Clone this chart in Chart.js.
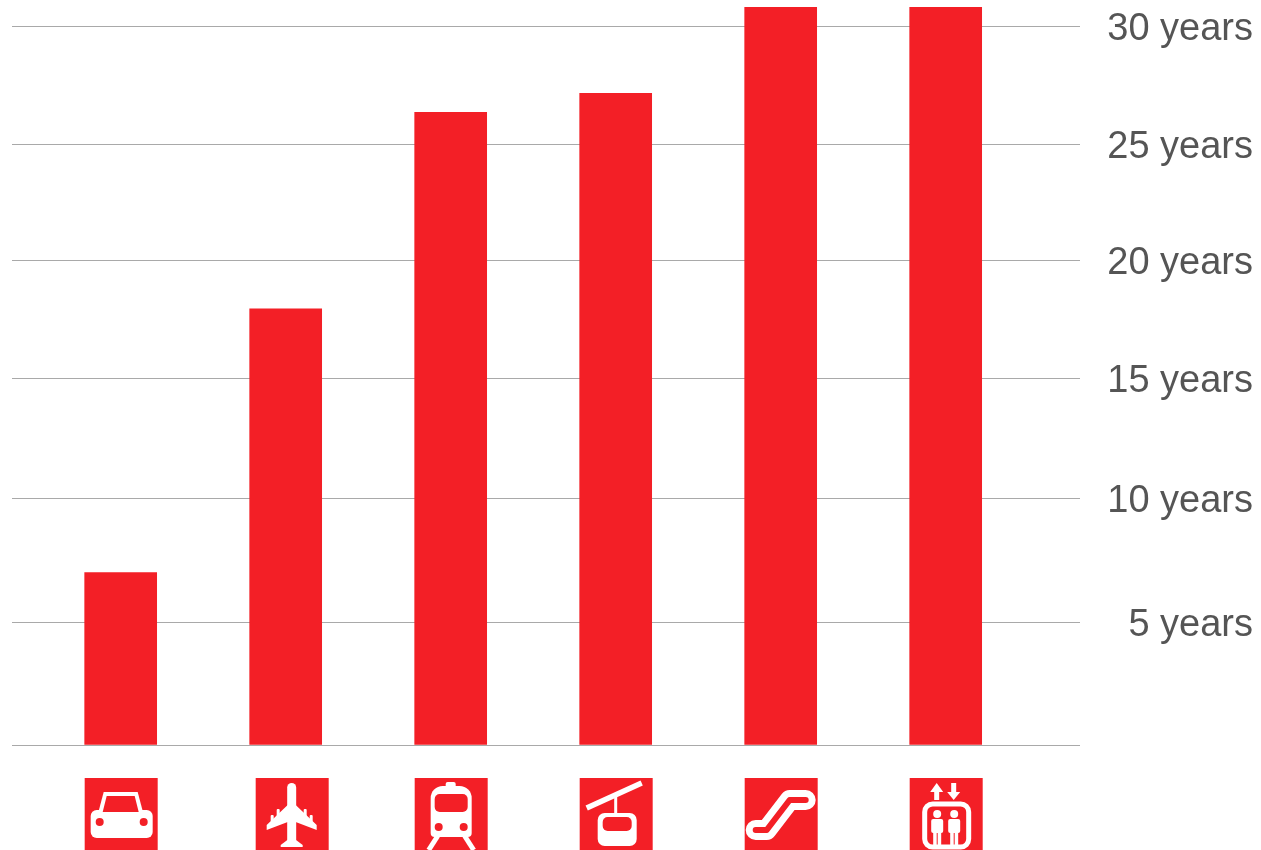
<!DOCTYPE html>
<html>
<head>
<meta charset="utf-8">
<title>Lifespan</title>
<style>
  html, body { margin: 0; padding: 0; background: #fff; overflow: hidden; }
  canvas { display: block; }
</style>
<script src="https://cdn.jsdelivr.net/npm/chart.js@4"></script>
</head>
<body>
<canvas id="chart" width="1261" height="850"></canvas>
<script>
const categories = ["car", "plane", "train", "cablecar", "escalator", "lift"];
const years = [7.2, 18.2, 26.4, 27.2, 30.8, 30.8];
const tickLabels = ["", "5 years", "10 years", "15 years", "20 years", "25 years", "30 years"];
// the gridlines in the picture are not quite evenly spaced, these are where they sit
const tickValues = [0, 5.13, 10.27, 15.3, 20.2, 25.05, 30];

const RED = "#f31f26";

function roundBox(ctx, x, y, w, h, r, color) {
    ctx.fillStyle = color;
    ctx.beginPath();
    ctx.roundRect(x, y, w, h, r);
    ctx.fill();
}

function dot(ctx, x, y, r, color) {
    ctx.fillStyle = color;
    ctx.beginPath();
    ctx.arc(x, y, r, 0, Math.PI * 2);
    ctx.fill();
}

function poly(ctx, pts, color) {
    ctx.fillStyle = color;
    ctx.beginPath();
    pts.forEach((p, i) => i ? ctx.lineTo(p[0], p[1]) : ctx.moveTo(p[0], p[1]));
    ctx.closePath();
    ctx.fill();
}

function stroke(ctx, pts, width, color, cap) {
    ctx.strokeStyle = color;
    ctx.lineWidth = width;
    ctx.lineCap = cap || "butt";
    ctx.lineJoin = "round";
    ctx.beginPath();
    pts.forEach((p, i) => i ? ctx.lineTo(p[0], p[1]) : ctx.moveTo(p[0], p[1]));
    ctx.stroke();
}

// little pictograms under the bars, drawn in a 72px box
const icons = {
    car(ctx) {
        poly(ctx, [[19, 14], [53, 14], [58, 33], [14, 33]], "#fff");
        roundBox(ctx, 6, 32, 62, 28, 6, "#fff");
        poly(ctx, [[22, 18], [50, 18], [54, 34], [18, 34]], RED);
        dot(ctx, 15, 44, 4, RED);
        dot(ctx, 59, 44, 4, RED);
    },
    plane(ctx) {
        const c = 36;
        roundBox(ctx, c - 4.5, 5, 9, 64, 4.5, "#fff");
        poly(ctx, [[c - 4, 27], [c - 25, 47], [c - 25, 52], [c - 4, 44], [c + 4, 44], [c + 25, 52], [c + 25, 47], [c + 4, 27]], "#fff");
        poly(ctx, [[c - 3, 61], [c - 11, 67], [c - 11, 69], [c + 11, 69], [c + 11, 67], [c + 3, 61]], "#fff");
        roundBox(ctx, c - 15, 31, 3, 8, 1, "#fff");
        roundBox(ctx, c + 12, 31, 3, 8, 1, "#fff");
        roundBox(ctx, c - 21, 37, 3, 7, 1, "#fff");
        roundBox(ctx, c + 18, 37, 3, 7, 1, "#fff");
    },
    train(ctx) {
        roundBox(ctx, 31, 4, 10, 6, 2, "#fff");
        roundBox(ctx, 16, 8, 41, 51, [12, 12, 4, 4], "#fff");
        roundBox(ctx, 20, 16, 33, 18, 5, RED);
        dot(ctx, 24, 49, 4, RED);
        dot(ctx, 49, 49, 4, RED);
        stroke(ctx, [[23, 58], [14, 72]], 5, "#fff");
        stroke(ctx, [[50, 58], [59, 72]], 5, "#fff");
    },
    cablecar(ctx) {
        stroke(ctx, [[7, 30], [62, 5]], 5.5, "#fff");
        stroke(ctx, [[36, 18], [36, 36]], 3, "#fff");
        roundBox(ctx, 18, 35, 39, 33, 7, "#fff");
        roundBox(ctx, 23, 39, 29, 14, 5, RED);
    },
    escalator(ctx) {
        const path = [[11, 52], [22, 52], [45, 22], [61, 22]];
        stroke(ctx, path, 20, "#fff", "round");
        stroke(ctx, path, 6, RED, "round");
    },
    lift(ctx) {
        poly(ctx, [[27, 5], [33.5, 14], [29.5, 14], [29.5, 22], [24.5, 22], [24.5, 14], [20.5, 14]], "#fff");
        poly(ctx, [[41.5, 5], [46.5, 5], [46.5, 14], [50.5, 14], [44, 22], [37.5, 14], [41.5, 14]], "#fff");
        ctx.strokeStyle = "#fff";
        ctx.lineWidth = 5;
        ctx.beginPath();
        ctx.roundRect(15, 26, 44, 43, 8);
        ctx.stroke();
        [27.5, 44.5].forEach(x => {
            dot(ctx, x, 36, 4, "#fff");
            roundBox(ctx, x - 6, 41, 12, 14, 2, "#fff");
            ctx.fillStyle = "#fff";
            ctx.fillRect(x - 4, 54, 3.5, 13);
            ctx.fillRect(x + 0.5, 54, 3.5, 13);
        });
    }
};

const iconRow = {
    id: "iconRow",
    afterDraw(chart) {
        const ctx = chart.ctx;
        const x = chart.scales.x;
        categories.forEach((name, i) => {
            const shift = name === "plane" ? 6 : 0; // plane square sits a bit right of its bar
            const left = x.getPixelForValue(i) - 36 + shift;
            ctx.save();
            ctx.translate(left, 778);
            ctx.fillStyle = RED;
            ctx.fillRect(0, 0, 73, 72);
            icons[name](ctx);
            ctx.restore();
        });
    }
};

new Chart(document.getElementById("chart").getContext("2d"), {
    type: "bar",
    data: {
        datasets: [{
            data: categories.map((name, i) => ({ x: i, y: years[i] })),
            backgroundColor: RED,
            barThickness: 72
        }]
    },
    options: {
        responsive: false,
        animation: false,
        layout: { padding: { left: 12, top: 7, right: 8, bottom: 105 } },
        plugins: { legend: { display: false }, tooltip: { enabled: false } },
        scales: {
            x: {
                type: "linear",
                display: false,
                offset: false,
                min: -0.6587,
                max: 5.814
            },
            y: {
                position: "right",
                min: 0,
                max: 30.8,
                afterFit(scale) { scale.width = 173; scale.paddingTop = 0; scale.paddingBottom = 0; },
                afterBuildTicks(scale) { scale.ticks = tickValues.map(value => ({ value })); },
                border: { display: false },
                grid: { color: "#a9a9a9", lineWidth: 1, drawTicks: false },
                ticks: {
                    padding: 0,
                    crossAlign: "far",
                    labelOffset: 3,
                    autoSkip: false,
                    color: "#555555",
                    font: { family: "Liberation Sans", size: 38 },
                    callback: (value, i) => tickLabels[i]
                }
            }
        }
    },
    plugins: [iconRow]
});
</script>
</body>
</html>
